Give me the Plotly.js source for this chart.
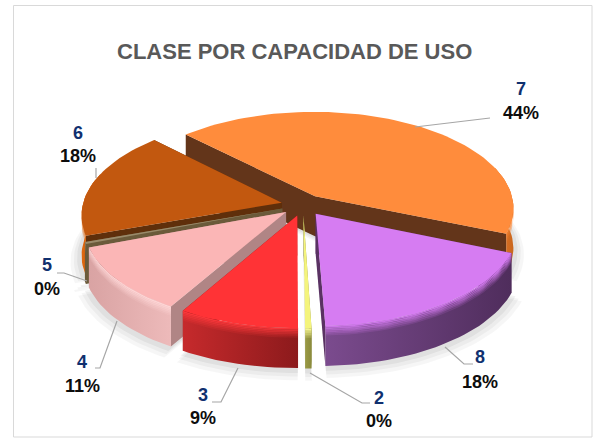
<!DOCTYPE html>
<html><head><meta charset="utf-8">
<script src="https://cdn.plot.ly/plotly-3.0.1.min.js"></script>
<style>html,body{margin:0;padding:0;background:#fff}#c{width:599px;height:438px}</style>
</head><body><div id="c"></div>
<script>
const categories = ['2','3','4','5','6','7','8'];
const values = [0.45, 8.6, 11, 0.3, 18, 44, 18.4];
const topColors = ['#F4F47C','#FF3336','#FBB6B6','#9A8A6A','#C2580F','#FF8C3C','#D67CF2'];
const radialColors = ['#8F8F40','#8E1A1A','#B08585','#6B5A3A','#5F2F0B','#63351A','#5A3263'];
const wallLeft = ['#9A9A45','#C62A2C','#D9A3A3','#6B5A3A','#E0680F','#E87A28','#7B4B8E'];
const wallRight = ['#8A8A3C','#8C1A1C','#EDBABA','#6B5A3A','#C2580F','#C9661E','#4F2D5C'];
const bevelColors = ['#FFFF9A','#FF3A3C','#FFD8D8','#B0A080','#E0680F','#FF8C3C','#D67CF2'];

const geo = {cx:303, cy:205, R:199, k:0.485, persp:0.12, pull:0.11, depth:40, startAngle:178};
const drawOrder = ['7','6','5','4','8','2','3'];
const labelPos = {
  '2':{x:379,y:398,yp:421,line:[[310,373],[362,403],[370,403]]},
  '3':{x:203,y:395,yp:418,line:[[238,368],[221,402],[212,402]]},
  '4':{x:82,y:362,yp:386,line:[[117,321],[100,368],[95,368]]},
  '5':{x:47,y:265,yp:289,line:[[87,281],[64,273],[57,273]]},
  '6':{x:78,y:133,yp:156,line:[[96,178],[96,168]]},
  '7':{x:521,y:89,yp:113,line:[[415,127],[490,118]]},
  '8':{x:480,y:357,yp:382,line:[[445,347],[464,364],[473,364]]}
};

const total = values.reduce((a,b)=>a+b,0);
const rad = d => d*Math.PI/180;
function project(u,v){
  const s = 1/(1-geo.persp*v);
  return [geo.cx+geo.R*u*s, geo.cy+geo.R*geo.k*v*s];
}
let ang = geo.startAngle;
const slices = categories.map((c,i)=>{
  const sweep = values[i]/total*360;
  const a0 = ang>=300 ? ang-360 : ang;
  const o = {i, c, a0, a1:a0+sweep, mid:a0+sweep/2};
  ang += sweep;
  o.ou = geo.pull*Math.sin(rad(o.mid));
  o.ov = -geo.pull*Math.cos(rad(o.mid));
  return o;
});
function rimPoint(s,t){
  return project(s.ou+Math.sin(rad(t)), s.ov-Math.cos(rad(t)));
}
function arc(s,a,b){
  const n = Math.max(2,Math.ceil((b-a)/2)), pts=[];
  for(let j=0;j<=n;j++) pts.push(rimPoint(s,a+(b-a)*j/n));
  return pts;
}
const apex = s => project(s.ou,s.ov);
const shift = (pts,dy) => pts.map(p=>[p[0],p[1]+dy]);
function poly(pts,extra){
  const t = Object.assign({type:'scatter',mode:'lines',hoverinfo:'skip',showlegend:false,
    x:pts.map(p=>p[0]).concat(pts[0][0]), y:pts.map(p=>p[1]).concat(pts[0][1]),
    fill:'toself', line:{width:0}}, extra||{});
  return t;
}
function rgba(hex,a){
  const n=parseInt(hex.slice(1),16);
  return `rgba(${n>>16},${(n>>8)&255},${n&255},${a})`;
}
const traces = [];
const ordered = drawOrder.map(c=>slices.find(s=>s.c===c));

[[10,0.035],[7,0.04],[4,0.05]].forEach(([g,al])=>{
  ordered.forEach(s=>{
    const pts = [apex(s)].concat(arc(s,s.a0,s.a1)).map(p=>[
      geo.cx+(p[0]-geo.cx)*(1+g/200), p[1]+geo.depth+g*0.6+ (p[1]-geo.cy)*g/200]);
    traces.push(poly(pts,{fillcolor:`rgba(0,0,0,${al})`}));
  });
});

ordered.forEach(s=>{
  const i = s.i, A = apex(s), d = geo.depth;
  const rim = arc(s,s.a0,s.a1);
  const P0 = rim[0], P1 = rim[rim.length-1];
  [P0,P1].forEach(P=>{
    traces.push(poly([A,P,[P[0],P[1]+d],[A[0],A[1]+d]],{fillcolor:radialColors[i]}));
  });
  const vis0 = Math.max(s.a0,72), vis1 = Math.min(s.a1,288);
  if(vis1>vis0){
    const top = arc(s,vis0,vis1);
    const wall = top.concat(shift(top,d).reverse());
    traces.push(poly(wall,{fillgradient:{type:'horizontal',
      colorscale:[[0,wallLeft[i]],[1,wallRight[i]]]}}));
    const bands = 6;
    for(let b=0;b<bands;b++){
      const y0=b*1.6, y1=(b+1)*1.6;
      traces.push(poly(shift(top,y0).concat(shift(top,y1).reverse()),
        {fillcolor:rgba(bevelColors[i],0.9*(1-b/bands))}));
    }
  }
  traces.push(poly([A].concat(rim),{fillcolor:topColors[i]}));
});

categories.forEach(c=>{
  const L = labelPos[c].line;
  traces.push({type:'scatter',mode:'lines',hoverinfo:'skip',showlegend:false,
    x:L.map(p=>p[0]),y:L.map(p=>p[1]),line:{color:'#A6A6A6',width:1.2}});
});

const font = 'Liberation Sans, Arial, sans-serif';
const annotations = [];
categories.forEach((c,i)=>{
  const p = labelPos[c];
  annotations.push({x:p.x,y:p.y,xref:'x',yref:'y',text:'<b>'+c+'</b>',showarrow:false,
    font:{family:font,size:18,color:'#10306F'}});
  annotations.push({x:p.x,y:p.yp,xref:'x',yref:'y',text:'<b>'+Math.round(values[i]/total*100)+'%</b>',showarrow:false,
    font:{family:font,size:18,color:'#0D0D0D'}});
});
annotations.push({x:294,y:51,xref:'x',yref:'y',text:'<b>CLASE POR CAPACIDAD DE USO</b>',showarrow:false,
  font:{family:font,size:22,color:'#595959'}});

const layout = {
  width:599,height:438,margin:{l:0,r:0,t:0,b:0},
  paper_bgcolor:'#fff',plot_bgcolor:'#fff',showlegend:false,
  xaxis:{range:[0,599],visible:false,fixedrange:true},
  yaxis:{range:[438,0],visible:false,fixedrange:true},
  annotations,
  shapes:[{type:'rect',xref:'x',yref:'y',x0:13.5,x1:592,y0:5.5,y1:437,line:{color:'#D9D9D9',width:1},layer:'below'}]
};
Plotly.newPlot('c',traces,layout,{displayModeBar:false,staticPlot:true});
</script></body></html>
